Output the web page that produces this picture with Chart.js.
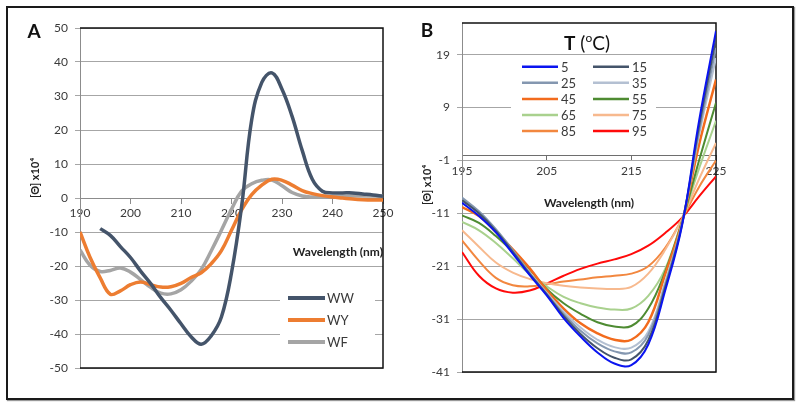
<!DOCTYPE html>
<html>
<head>
<meta charset="utf-8">
<script src="https://cdn.jsdelivr.net/npm/chart.js@4.4.1/dist/chart.umd.min.js"></script>
<style>
  body { margin: 0; background: #fff; }
  #frame { position: absolute; left: 6px; top: 6px; width: 784px; height: 390px; border: 2px solid #1a1a1a; box-shadow: 1px 1px 1px #999; }
  #chartA { position: absolute; left: 0; top: 0; }
  #chartB { position: absolute; left: 400px; top: 0; }
</style>
</head>
<body>
<div id="frame"></div>
<canvas id="chartA" width="400" height="406"></canvas>
<canvas id="chartB" width="400" height="406"></canvas>
<script>
// ---- panel A data ----
var wavelengthA = [190, 192, 194, 196, 198, 200, 202, 204, 206, 208, 210, 212, 214, 216, 218, 220,
                   222, 224, 226, 228, 230, 232, 234, 236, 238, 240, 242, 244, 246, 248, 250];
var wwValues = [null, null, -9, -11, -14.3, -17.5, -21.5, -25.2, -29.3, -33, -37, -40.8, -43, -40.5, -35, -22,
                -2.5, 23, 34, 36.8, 32, 24, 14, 5.5, 2, 1.5, 1.5, 1.5, 1.2, 0.9, 0.5];
var wyValues = [-10, -17.5, -23.5, -28.3, -27.3, -25.5, -24.7, -25.5, -26.2, -26.1, -25.1, -23.4, -22, -19.3, -15.5, -9.5,
                -3.5, 1, 3.8, 5.5, 5.2, 3.8, 2.2, 1.3, 0.7, 0.3, 0, -0.3, -0.5, -0.6, -0.6];
var wfValues = [-15.3, -19.8, -21.6, -21.3, -20.6, -21.8, -24, -26.3, -28, -28.2, -27, -24.5, -21, -15.5, -9.5, -3.3,
                2, 4.2, 5.2, 5.3, 3.6, 1.6, 0.6, 0.3, 0.3, 0.4, 0.5, 0.6, 0.6, 0.6, 0.5];
var seriesA = ['WW', 'WY', 'WF'];
var colorsA = ['#44546A', '#ED7D31', '#A5A5A5'];

// ---- panel B data ----
var wavelengthB = [195, 197, 199, 201, 203, 205, 207, 209, 211, 213, 215, 217, 219, 221, 223, 225];
var temps = ['5', '15', '25', '35', '45', '55', '65', '75', '85', '95'];
var cd5  = [-9, -11.5, -14.6, -18.6, -22.7, -26.5, -30.8, -34.3, -37.3, -39.4, -39.7, -35.8, -25.6, -13.2, 6.5, 23.5];
var cd15 = [-8.5, -11, -14.3, -18.3, -22.5, -26.3, -30.4, -33.8, -36.5, -38.3, -38.6, -35, -25, -13, 5.5, 22];
var cd25 = [-8, -10.6, -14, -18, -22.3, -26.2, -30, -33.2, -35.6, -37.1, -37.3, -34, -24.5, -12.8, 4.5, 20.3];
var cd35 = [-8.3, -10.9, -14.2, -18.1, -22.2, -26, -29.6, -32.6, -34.9, -36.3, -36.4, -33.4, -24, -12.7, 3.8, 18.4];
var cd45 = [-9.8, -11.5, -14.5, -17.8, -21.4, -25.5, -29, -31.8, -33.7, -34.9, -34.9, -31.6, -22.5, -12.6, 2, 14.3];
var cd55 = [-11.4, -12.8, -15.3, -18.3, -21.6, -25.3, -28, -30, -31.6, -32.4, -32.3, -29, -22, -12.5, -1, 9.9];
var cd65 = [-12.6, -14.2, -16.6, -19.5, -22.5, -24.8, -26.8, -28, -28.8, -29.2, -29, -26.6, -21.5, -12.3, -2.5, 6.5];
var cd75 = [-14.2, -17.3, -20.3, -22.2, -23.4, -24.2, -24.7, -25, -25.2, -25.3, -24.9, -22.4, -17.9, -12, -4.5, 2.3];
var cd85 = [-16.1, -20, -23.2, -24.6, -24.8, -24.4, -23.9, -23.5, -23.1, -22.8, -22.4, -21, -17.5, -12, -6, -1];
var cd95 = [-18.3, -22.8, -25.2, -26, -25.6, -24.3, -22.8, -21.5, -20.5, -19.7, -18.7, -17.1, -14.7, -11.8, -7.8, -4];
var colorsB = ['#0A14F0', '#44546A', '#8497B0', '#B4C0D2', '#F26B1D', '#4E8B32', '#A9D18E', '#F7B98E', '#F2873F', '#FF0A0A'];
var xTicksB = [195, 205, 215, 225];
var yTicksB = [-41, -31, -21, -11, -1, 9, 19];

Chart.defaults.font.family = 'Lato, "Open Sans", sans-serif';
Chart.defaults.color = '#3a3a3a';

function toPoints(xs, ys) {
    return xs.map(function(x, i) { return { x: x, y: ys[i] }; })
             .filter(function(p) { return p.y !== null; });
}

// black border of the plot area (left side stays as the grey axis)
var plotFrame = {
    id: 'plotFrame',
    beforeDatasetsDraw: function(chart) {
        var a = chart.chartArea, ctx = chart.ctx;
        ctx.save();
        ctx.strokeStyle = '#111';
        ctx.lineWidth = 1.5;
        ctx.beginPath();
        ctx.moveTo(a.left, a.top);
        ctx.lineTo(a.right, a.top);
        ctx.lineTo(a.right, a.bottom);
        ctx.lineTo(a.left, a.bottom);
        ctx.stroke();
        ctx.restore();
    }
};

function panelText(letter, lx, ly, tx, ty) {
    return {
        id: 'panelText',
        afterDraw: function(chart) {
            var ctx = chart.ctx;
            ctx.save();
            ctx.fillStyle = '#111';
            ctx.textAlign = 'center';
            ctx.textBaseline = 'middle';
            ctx.font = 'bold 19px Lato, sans-serif';
            ctx.fillText(letter, lx, ly);
            ctx.translate(tx, ty);
            ctx.rotate(-Math.PI / 2);
            ctx.font = 'bold 11px Lato, sans-serif';
            ctx.fillStyle = '#222';
            ctx.fillText('[\u0398] x10\u2074', 0, 0);
            ctx.restore();
        }
    };
}

var legendA = {
    id: 'legendA',
    afterDatasetsDraw: function(chart) {
        var ctx = chart.ctx;
        ctx.save();
        ctx.fillStyle = '#fff';
        ctx.fillRect(280, 284, 95, 70);
        chart.data.datasets.forEach(function(ds, i) {
            var y = 298 + i * 22;
            ctx.strokeStyle = ds.borderColor;
            ctx.lineWidth = 4;
            ctx.beginPath();
            ctx.moveTo(288, y);
            ctx.lineTo(325, y);
            ctx.stroke();
            ctx.fillStyle = '#3a3a3a';
            ctx.font = '13px Lato, sans-serif';
            ctx.textBaseline = 'middle';
            ctx.fillText(ds.label, 327, y + 1);
        });
        ctx.restore();
    }
};

var legendB = {
    id: 'legendB',
    afterDatasetsDraw: function(chart) {
        var ctx = chart.ctx;
        ctx.save();
        ctx.fillStyle = '#fff';
        ctx.fillRect(111, 58, 145, 92);
        chart.data.datasets.forEach(function(ds, i) {
            var row = Math.floor(i / 2), col = i % 2;
            var y = 66.7 + row * 16.1;
            var x0 = col === 0 ? 122 : 193;
            ctx.strokeStyle = ds.borderColor;
            ctx.lineWidth = 2.5;
            ctx.beginPath();
            ctx.moveTo(x0, y);
            ctx.lineTo(x0 + 36, y);
            ctx.stroke();
            ctx.fillStyle = '#3a3a3a';
            ctx.font = '13px Lato, sans-serif';
            ctx.textBaseline = 'middle';
            ctx.fillText(ds.label, x0 + 39, y + 1);
        });
        // legend title T (oC)
        var parts = [
            { t: 'T', f: 'bold 19px Lato, sans-serif', dy: 0 },
            { t: ' (', f: '19px Lato, sans-serif', dy: 0 },
            { t: 'o', f: '12px Lato, sans-serif', dy: -6 },
            { t: 'C)', f: '19px Lato, sans-serif', dy: 0 }
        ];
        var total = 0;
        parts.forEach(function(p) { ctx.font = p.f; p.w = ctx.measureText(p.t).width; total += p.w; });
        var x = 187 - total / 2;
        ctx.fillStyle = '#111';
        ctx.textBaseline = 'middle';
        parts.forEach(function(p) {
            ctx.font = p.f;
            ctx.fillText(p.t, x, 44 + p.dy);
            x += p.w;
        });
        ctx.restore();
    }
};

// ---- chart A ----
new Chart(document.getElementById('chartA'), {
    type: 'line',
    data: {
        datasets: [
            { label: seriesA[0], data: toPoints(wavelengthA, wwValues), borderColor: colorsA[0], borderWidth: 3.5 },
            { label: seriesA[1], data: toPoints(wavelengthA, wyValues), borderColor: colorsA[1], borderWidth: 3.5 },
            { label: seriesA[2], data: toPoints(wavelengthA, wfValues), borderColor: colorsA[2], borderWidth: 3.5 }
        ]
    },
    options: {
        responsive: false,
        animation: false,
        devicePixelRatio: 1,
        layout: { padding: { left: 0, top: 28, right: 17, bottom: 38 } },
        elements: {
            point: { radius: 0 },
            line: { tension: 0.4, fill: false }
        },
        plugins: { legend: { display: false }, tooltip: { enabled: false } },
        scales: {
            x: {
                type: 'linear',
                position: { y: 0 },
                min: 190,
                max: 250,
                ticks: { stepSize: 10, maxRotation: 0, padding: 3, font: { size: 12 } },
                grid: { drawOnChartArea: false, tickLength: 5, color: '#8c8c8c' },
                border: { color: '#8c8c8c' },
                title: {
                    display: true, text: 'Wavelength (nm)', align: 'end', color: '#222',
                    font: { size: 12, weight: 'bold' }, padding: { top: 22, bottom: 0 }
                }
            },
            y: {
                min: -50,
                max: 50,
                ticks: { stepSize: 10, padding: 7, font: { size: 12 } },
                grid: { color: '#a6a6a6', tickLength: 5 },
                border: { color: '#8c8c8c' },
                afterFit: function(scale) { scale.width = 80; }
            }
        }
    },
    plugins: [plotFrame, legendA, panelText('A', 34, 32, 35, 178)]
});

// ---- chart B ----
var cdSeries = [cd5, cd15, cd25, cd35, cd45, cd55, cd65, cd75, cd85, cd95];
var datasetsB = temps.map(function(t, i) {
    return {
        label: t,
        data: toPoints(wavelengthB, cdSeries[i]),
        borderColor: colorsB[i],
        borderWidth: i === 4 ? 2.5 : 2
    };
});

new Chart(document.getElementById('chartB'), {
    type: 'line',
    data: { datasets: datasetsB },
    options: {
        responsive: false,
        animation: false,
        devicePixelRatio: 1,
        layout: { padding: { left: 0, top: 23, right: 84, bottom: 34 } },
        elements: {
            point: { radius: 0 },
            line: { tension: 0.4, fill: false }
        },
        plugins: { legend: { display: false }, tooltip: { enabled: false } },
        scales: {
            x: {
                type: 'linear',
                position: { y: 0 },
                min: 195,
                max: 225,
                afterBuildTicks: function(scale) {
                    scale.ticks = xTicksB.map(function(v) { return { value: v }; });
                },
                ticks: { maxRotation: 0, padding: 4, font: { size: 12 } },
                grid: { drawOnChartArea: false, tickLength: 5, color: '#6e6e6e' },
                border: { color: '#6e6e6e' },
                title: {
                    display: true, text: 'Wavelength (nm)', color: '#222',
                    font: { size: 12, weight: 'bold' }, padding: { top: 13, bottom: 0 }
                }
            },
            y: {
                min: -41,
                max: 25,
                afterBuildTicks: function(scale) {
                    scale.ticks = yTicksB.map(function(v) { return { value: v }; });
                },
                ticks: { padding: 7, font: { size: 12 } },
                grid: { color: '#a6a6a6', tickLength: 5 },
                border: { color: '#8c8c8c' },
                afterFit: function(scale) { scale.width = 62; }
            }
        }
    },
    plugins: [plotFrame, legendB, panelText('B', 27, 31, 27, 185)]
});
</script>
</body>
</html>
